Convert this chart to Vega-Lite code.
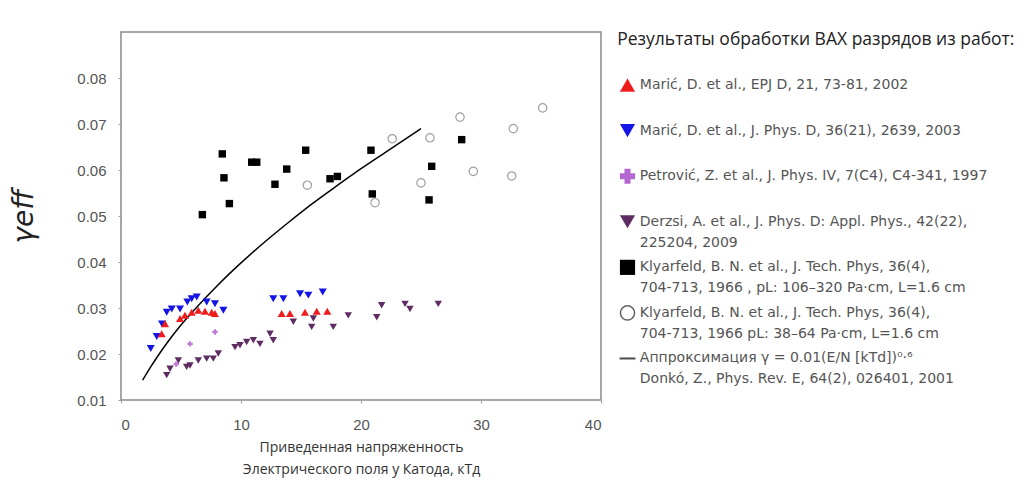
{
  "$schema": "https://vega.github.io/schema/vega-lite/v6.json",
  "background": "white",
  "padding": {"left": 10, "top": 30, "right": 5, "bottom": 5},
  "spacing": 4,
  "config": {
    "view": {"stroke": null},
    "font": "Liberation Sans"
  },
  "datasets": {
    "pts": [
      {"s": "blk", "x": 6.78, "y": 0.0503},
      {"s": "blk", "x": 8.44, "y": 0.0635},
      {"s": "blk", "x": 8.58, "y": 0.0583},
      {"s": "blk", "x": 9.03, "y": 0.0527},
      {"s": "blk", "x": 10.89, "y": 0.0617},
      {"s": "blk", "x": 11.31, "y": 0.0617},
      {"s": "blk", "x": 12.83, "y": 0.0569},
      {"s": "blk", "x": 13.81, "y": 0.0602},
      {"s": "blk", "x": 15.39, "y": 0.0643},
      {"s": "blk", "x": 17.42, "y": 0.0581},
      {"s": "blk", "x": 18.03, "y": 0.0586},
      {"s": "blk", "x": 20.83, "y": 0.0643},
      {"s": "blk", "x": 20.94, "y": 0.0548},
      {"s": "blk", "x": 25.89, "y": 0.0608},
      {"s": "blk", "x": 25.67, "y": 0.0535},
      {"s": "blk", "x": 28.39, "y": 0.0666},
      {"s": "circ", "x": 15.53, "y": 0.0567},
      {"s": "circ", "x": 21.17, "y": 0.0529},
      {"s": "circ", "x": 22.6, "y": 0.0668},
      {"s": "circ", "x": 25.75, "y": 0.067},
      {"s": "circ", "x": 25.0, "y": 0.0572},
      {"s": "circ", "x": 28.25, "y": 0.0715},
      {"s": "circ", "x": 29.36, "y": 0.0597},
      {"s": "circ", "x": 32.69, "y": 0.069},
      {"s": "circ", "x": 32.56, "y": 0.0587},
      {"s": "circ", "x": 35.14, "y": 0.0735},
      {"s": "blue", "x": 2.48, "y": 0.0212},
      {"s": "blue", "x": 2.98, "y": 0.0238},
      {"s": "blue", "x": 3.42, "y": 0.0265},
      {"s": "blue", "x": 3.81, "y": 0.0291},
      {"s": "blue", "x": 4.23, "y": 0.0298},
      {"s": "blue", "x": 4.92, "y": 0.0298},
      {"s": "blue", "x": 5.53, "y": 0.0313},
      {"s": "blue", "x": 5.89, "y": 0.032},
      {"s": "blue", "x": 6.31, "y": 0.0324},
      {"s": "blue", "x": 7.14, "y": 0.0313},
      {"s": "blue", "x": 7.83, "y": 0.0309},
      {"s": "blue", "x": 8.53, "y": 0.0295},
      {"s": "blue", "x": 12.69, "y": 0.032},
      {"s": "blue", "x": 13.53, "y": 0.032},
      {"s": "blue", "x": 14.92, "y": 0.0331},
      {"s": "blue", "x": 15.61, "y": 0.0328},
      {"s": "blue", "x": 16.81, "y": 0.0335},
      {"s": "red", "x": 3.39, "y": 0.0244},
      {"s": "red", "x": 3.67, "y": 0.0266},
      {"s": "red", "x": 4.92, "y": 0.0277},
      {"s": "red", "x": 5.33, "y": 0.0284},
      {"s": "red", "x": 5.89, "y": 0.0291},
      {"s": "red", "x": 6.44, "y": 0.0295},
      {"s": "red", "x": 7.0, "y": 0.0293},
      {"s": "red", "x": 7.56, "y": 0.0291},
      {"s": "red", "x": 7.83, "y": 0.0288},
      {"s": "red", "x": 13.39, "y": 0.0288},
      {"s": "red", "x": 14.08, "y": 0.0288},
      {"s": "red", "x": 15.33, "y": 0.0291},
      {"s": "red", "x": 16.31, "y": 0.0293},
      {"s": "red", "x": 17.19, "y": 0.0293},
      {"s": "pur", "x": 3.81, "y": 0.0154},
      {"s": "pur", "x": 4.08, "y": 0.0168},
      {"s": "pur", "x": 4.78, "y": 0.0186},
      {"s": "pur", "x": 5.47, "y": 0.0172},
      {"s": "pur", "x": 5.75, "y": 0.0175},
      {"s": "pur", "x": 6.44, "y": 0.0186},
      {"s": "pur", "x": 7.14, "y": 0.019},
      {"s": "pur", "x": 7.69, "y": 0.019},
      {"s": "pur", "x": 8.11, "y": 0.0201},
      {"s": "pur", "x": 9.5, "y": 0.0215},
      {"s": "pur", "x": 9.92, "y": 0.0219},
      {"s": "pur", "x": 10.47, "y": 0.0226},
      {"s": "pur", "x": 11.03, "y": 0.023},
      {"s": "pur", "x": 11.58, "y": 0.0222},
      {"s": "pur", "x": 12.42, "y": 0.0244},
      {"s": "pur", "x": 12.69, "y": 0.023},
      {"s": "pur", "x": 14.36, "y": 0.027},
      {"s": "pur", "x": 15.89, "y": 0.0259},
      {"s": "pur", "x": 16.03, "y": 0.0277},
      {"s": "pur", "x": 17.69, "y": 0.0259},
      {"s": "pur", "x": 18.94, "y": 0.0284},
      {"s": "pur", "x": 21.31, "y": 0.028},
      {"s": "pur", "x": 21.72, "y": 0.0306},
      {"s": "pur", "x": 23.67, "y": 0.0309},
      {"s": "pur", "x": 24.08, "y": 0.0298},
      {"s": "pur", "x": 26.44, "y": 0.0309},
      {"s": "mag", "x": 5.75, "y": 0.0222},
      {"s": "mag", "x": 7.83, "y": 0.0248},
      {"s": "mag", "x": 4.6, "y": 0.0178}
    ],
    "fit": [
      {"x": 1.8, "y": 0.0143},
      {"x": 2.5, "y": 0.0173},
      {"x": 3, "y": 0.0193},
      {"x": 4, "y": 0.023},
      {"x": 5, "y": 0.0263},
      {"x": 6, "y": 0.0293},
      {"x": 7, "y": 0.0321},
      {"x": 8, "y": 0.0348},
      {"x": 10, "y": 0.0398},
      {"x": 12, "y": 0.0444},
      {"x": 14, "y": 0.0487},
      {"x": 16, "y": 0.0528},
      {"x": 18, "y": 0.0566},
      {"x": 20, "y": 0.0603},
      {"x": 22, "y": 0.0638},
      {"x": 25, "y": 0.069}
    ],
    "leg": [
      {"key": "red", "label": "Marić, D. et al., EPJ D, 21, 73-81, 2002"},
      {"key": "blue", "label": "Marić, D. et al., J. Phys. D, 36(21), 2639, 2003"},
      {"key": "mag", "label": "Petrović, Z. et al., J. Phys. IV, 7(C4), C4-341, 1997"},
      {"key": "pur", "label": "Derzsi, A. et al., J. Phys. D: Appl. Phys., 42(22),\n225204, 2009"},
      {"key": "blk", "label": "Klyarfeld, B. N. et al., J. Tech. Phys, 36(4),\n704-713, 1966 , pL: 106–320 Pa·cm, L=1.6 cm"},
      {"key": "circ", "label": "Klyarfeld, B. N. et al., J. Tech. Phys, 36(4),\n704-713, 1966 pL: 38–64 Pa·cm, L=1.6 cm"},
      {"key": "fit", "label": "Аппроксимация γ = 0.01(E/N [kTd])⁰·⁶\nDonkó, Z., Phys. Rev. E, 64(2), 026401, 2001"}
    ]
  },
  "hconcat": [
    {
      "width": 480,
      "height": 368,
      "view": {"stroke": "#8a8a8a", "strokeWidth": 1.5},
      "layer": [
        {
          "data": {"name": "fit"},
          "mark": {"type": "line", "color": "black", "strokeWidth": 1.5, "interpolate": "monotone"},
          "encoding": {
            "x": {"field": "x", "type": "quantitative", "scale": {"domain": [0, 40], "nice": false},
              "axis": {"values": [0, 10, 20, 30, 40], "title": ["Приведенная напряженность", "Электрического поля у Катода, кТд"],
                "domain": false, "grid": false, "tickSize": 3, "tickColor": "#999", "labelPadding": 14,
                "labelFontSize": 15, "labelColor": "#555", "labelFont": "Liberation Sans",
                "titleFont": "Open Sans", "titleFontWeight": "normal", "titleFontSize": 14, "titleColor": "#333", "titlePadding": 8, "titleLineHeight": 22}},
            "y": {"field": "y", "type": "quantitative", "scale": {"domain": [0.01, 0.09], "nice": false, "zero": false},
              "axis": {"values": [0.01, 0.02, 0.03, 0.04, 0.05, 0.06, 0.07, 0.08], "format": ".2f", "title": "γeff",
                "domain": false, "grid": false, "tickSize": 3, "tickColor": "#999", "labelPadding": 12,
                "labelFontSize": 15, "labelColor": "#555", "labelFont": "Liberation Sans",
                "titleFont": "DejaVu Sans", "titleFontStyle": "italic", "titleFontWeight": "normal", "titleFontSize": 28, "titleColor": "#222", "titlePadding": 38}}
          }
        },
        {
          "data": {"name": "pts"},
          "transform": [{"filter": "datum.s == 'circ'"}],
          "mark": {"type": "point", "shape": "circle", "filled": false, "stroke": "#777", "strokeWidth": 1.2, "size": 70},
          "encoding": {"x": {"field": "x", "type": "quantitative"}, "y": {"field": "y", "type": "quantitative"}}
        },
        {
          "data": {"name": "pts"},
          "transform": [{"filter": "datum.s == 'blk'"}],
          "mark": {"type": "point", "shape": "square", "filled": true, "color": "black", "opacity": 1, "size": 55},
          "encoding": {"x": {"field": "x", "type": "quantitative"}, "y": {"field": "y", "type": "quantitative"}}
        },
        {
          "data": {"name": "pts"},
          "transform": [{"filter": "datum.s == 'pur'"}],
          "mark": {"type": "point", "shape": "triangle-down", "filled": true, "color": "#5e2c63", "opacity": 1, "size": 55},
          "encoding": {"x": {"field": "x", "type": "quantitative"}, "y": {"field": "y", "type": "quantitative"}}
        },
        {
          "data": {"name": "pts"},
          "transform": [{"filter": "datum.s == 'mag'"}],
          "mark": {"type": "point", "shape": "cross", "filled": true, "color": "#c27ad8", "opacity": 1, "size": 30},
          "encoding": {"x": {"field": "x", "type": "quantitative"}, "y": {"field": "y", "type": "quantitative"}}
        },
        {
          "data": {"name": "pts"},
          "transform": [{"filter": "datum.s == 'blue'"}],
          "mark": {"type": "point", "shape": "triangle-down", "filled": true, "color": "#1414e6", "opacity": 1, "size": 65},
          "encoding": {"x": {"field": "x", "type": "quantitative"}, "y": {"field": "y", "type": "quantitative"}}
        },
        {
          "data": {"name": "pts"},
          "transform": [{"filter": "datum.s == 'red'"}],
          "mark": {"type": "point", "shape": "triangle-up", "filled": true, "color": "#ee1c1c", "opacity": 1, "size": 65},
          "encoding": {"x": {"field": "x", "type": "quantitative"}, "y": {"field": "y", "type": "quantitative"}}
        }
      ]
    },
    {
      "width": 410,
      "height": 334,
      "layer": [
        {
          "data": {"values": [{"key": "hdr", "label": "Результаты обработки ВАХ разрядов из работ:"}]},
          "mark": {"type": "text", "align": "left", "baseline": "middle", "font": "Open Sans", "fontSize": 17.5, "color": "#222"},
          "encoding": {
            "x": {"datum": 2.5, "type": "quantitative", "scale": {"domain": [0, 100]}, "axis": null},
            "y": {"field": "key", "type": "ordinal", "scale": {"type": "point", "domain": ["hdr", "red", "blue", "mag", "pur", "blk", "circ", "fit"], "padding": 0.165}, "axis": null},
            "text": {"field": "label"}
          }
        },
        {
          "data": {"name": "leg"},
          "mark": {"type": "text", "align": "left", "baseline": "middle", "font": "DejaVu Sans", "fontSize": 14, "color": "#555", "lineBreak": "\n", "lineHeight": 21},
          "encoding": {
            "x": {"datum": 8, "type": "quantitative"},
            "y": {"field": "key", "type": "ordinal"},
            "text": {"field": "label"}
          }
        },
        {
          "data": {"name": "leg"},
          "transform": [{"filter": "datum.key != 'circ' && datum.key != 'fit'"}],
          "mark": {"type": "point", "filled": true, "opacity": 1, "size": 220},
          "encoding": {
            "x": {"datum": 5, "type": "quantitative"},
            "y": {"field": "key", "type": "ordinal"},
            "shape": {"field": "key", "type": "nominal", "scale": {"domain": ["red", "blue", "mag", "pur", "blk"], "range": ["triangle-up", "triangle-down", "cross", "triangle-down", "square"]}, "legend": null},
            "color": {"field": "key", "type": "nominal", "scale": {"domain": ["red", "blue", "mag", "pur", "blk"], "range": ["#ee1c1c", "#1414e6", "#b467d0", "#5e2c63", "#000000"]}, "legend": null},
            "size": {"field": "key", "type": "nominal", "scale": {"domain": ["red", "blue", "mag", "pur", "blk"], "range": [230, 230, 50, 230, 260]}, "legend": null}
          }
        },
        {
          "data": {"name": "leg"},
          "transform": [{"filter": "datum.key == 'circ'"}],
          "mark": {"type": "point", "shape": "circle", "filled": false, "stroke": "#222", "strokeWidth": 1.5, "size": 200},
          "encoding": {
            "x": {"datum": 5, "type": "quantitative"},
            "y": {"field": "key", "type": "ordinal"}
          }
        },
        {
          "data": {"name": "leg"},
          "transform": [{"filter": "datum.key == 'fit'"}],
          "mark": {"type": "point", "shape": "stroke", "filled": false, "stroke": "#000", "strokeWidth": 2, "size": 250},
          "encoding": {
            "x": {"datum": 5, "type": "quantitative"},
            "y": {"field": "key", "type": "ordinal"}
          }
        }
      ]
    }
  ]
}
